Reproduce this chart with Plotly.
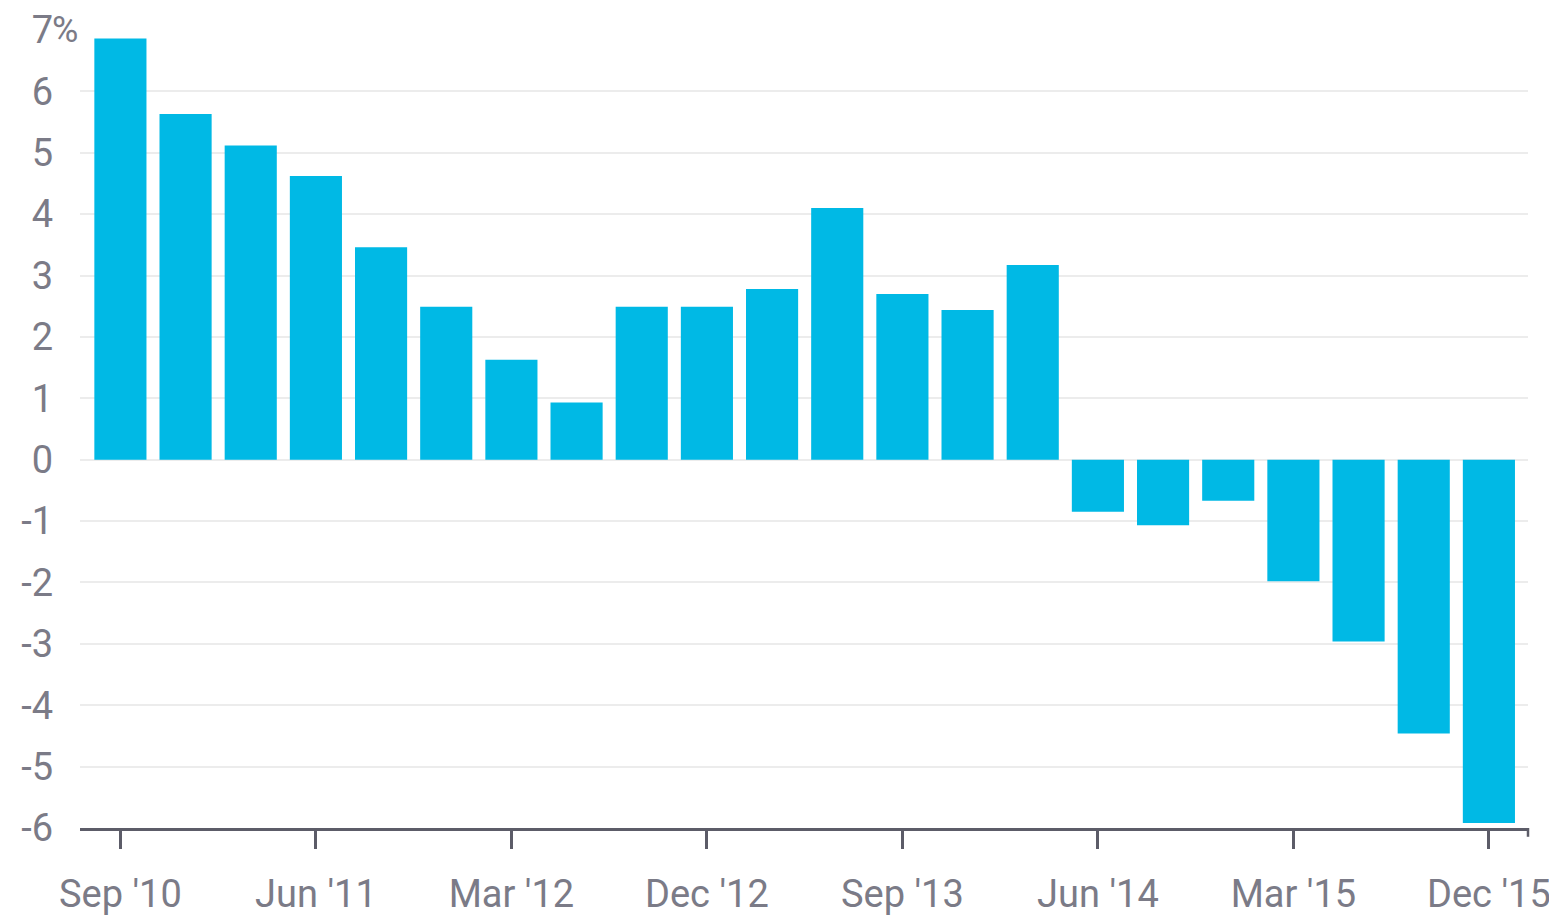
import plotly.graph_objects as go

quarters = ["Sep '10", "Dec '10", "Mar '11", "Jun '11", "Sep '11", "Dec '11",
            "Mar '12", "Jun '12", "Sep '12", "Dec '12", "Mar '13", "Jun '13",
            "Sep '13", "Dec '13", "Mar '14", "Jun '14", "Sep '14", "Dec '14",
            "Mar '15", "Jun '15", "Sep '15", "Dec '15"]
values = [6.86, 5.63, 5.12, 4.62, 3.46, 2.49, 1.63, 0.93, 2.49, 2.49, 2.78, 4.10,
          2.70, 2.44, 3.17, -0.85, -1.07, -0.67, -1.98, -2.96, -4.46, -5.92]
x_ticks = ["Sep '10", "Jun '11", "Mar '12", "Dec '12", "Sep '13", "Jun '14", "Mar '15", "Dec '15"]
y_ticks = [-6, -5, -4, -3, -2, -1, 0, 1, 2, 3, 4, 5, 6, 7]

font_family = "Roboto"
label_color = "#7b7b87"
axis_color = "#5c5c68"

fig = go.Figure(go.Bar(x=quarters, y=values, marker_color="#00B9E5",
                       marker_line_width=0))

fig.update_layout(
    width=1549, height=915,
    margin=dict(l=72, r=29, t=22, b=95),
    paper_bgcolor="white", plot_bgcolor="white",
    bargap=0.2, showlegend=False,
    font=dict(family=font_family, size=38, color=label_color),
)
fig.update_xaxes(
    type="category", range=[-0.62, 21.6], automargin=False,
    tickmode="array", tickvals=x_ticks, ticktext=x_ticks,
    ticks="outside", ticklen=18, tickwidth=2.5, tickcolor=axis_color,
    showline=True, linecolor=axis_color, linewidth=3,
    showgrid=False, ticklabelstandoff=12,
    tickfont=dict(size=38, color=label_color, family=font_family),
)
fig.update_yaxes(
    range=[-6, 7], tickmode="array", tickvals=y_ticks, automargin=False,
    ticktext=[str(v) for v in y_ticks],
    showgrid=True, gridcolor="#ececec", gridwidth=2,
    zeroline=False, showline=False, ticks="",
    ticklabelstandoff=26,
    tickfont=dict(size=38, color=label_color, family=font_family),
)
fig.add_annotation(text="%", xref="paper", yref="y", x=-0.0205, y=7,
                   xanchor="left", yanchor="middle", showarrow=False,
                   font=dict(size=36, color=label_color, family=font_family))
fig.add_shape(type="line", xref="paper", yref="paper", x0=1, x1=1, y0=0, y1=-0.011,
              line=dict(color=axis_color, width=2.5))

fig.write_html("out.html")
